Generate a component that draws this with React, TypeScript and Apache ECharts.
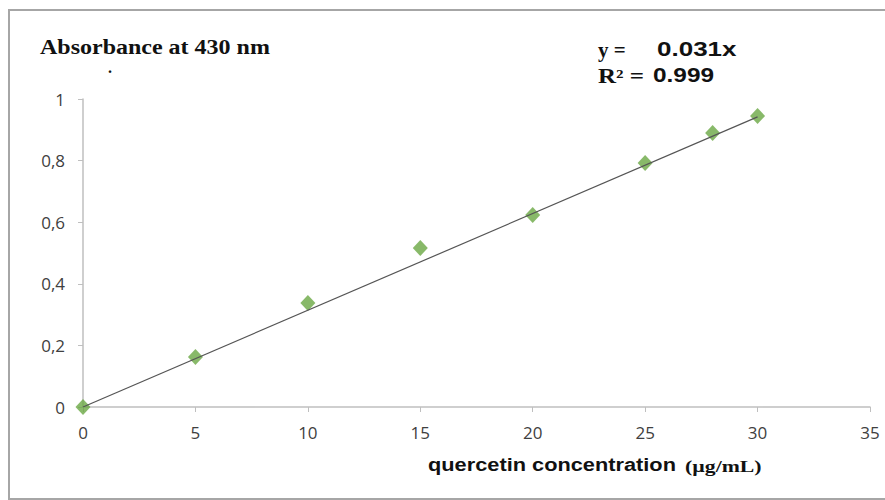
import React, { useEffect, useRef } from "react";
import * as echarts from "echarts";

const concentrations = [0, 5, 10, 15, 20, 25, 28, 30];
const absorbances = [0, 0.162, 0.338, 0.516, 0.623, 0.792, 0.89, 0.945];
const trendX = [0, 30];
const trendY = [0, 0.942];
const xTicks = [0, 5, 10, 15, 20, 25, 30, 35];
const yTicks = [0, 0.2, 0.4, 0.6, 0.8, 1];

export default function App() {
  const ref = useRef<HTMLDivElement>(null);
  useEffect(() => {
    if (!ref.current) return;
    const chart = echarts.init(ref.current, null, { renderer: "svg" });
    const labelFont = "'Open Sans', 'Noto Sans', sans-serif";
    const serif = "'Liberation Serif', 'Times New Roman', serif";
    const sans = "'Liberation Sans', Arial, sans-serif";
    const txt = (x: number, y: number, text: string, font: string, size: number, sx: number) => ({
      type: "text",
      x,
      y,
      scaleX: sx,
      silent: true,
      style: { text, fontFamily: font, fontWeight: "bold", fontSize: size, fill: "#111111", verticalAlign: "middle" },
    });
    chart.setOption({
      animation: false,
      backgroundColor: "#ffffff",
      grid: { left: 83, right: 15, top: 99, bottom: 93, containLabel: false },
      xAxis: {
        type: "value",
        min: xTicks[0],
        max: xTicks[xTicks.length - 1],
        interval: 5,
        splitLine: { show: false },
        axisLine: { lineStyle: { color: "#bfbfbf", width: 1.5 } },
        axisTick: { show: true, inside: false, length: 5, lineStyle: { color: "#bfbfbf" } },
        axisLabel: { color: "#404040", fontSize: 17, fontFamily: labelFont, margin: 17 },
      },
      yAxis: {
        type: "value",
        min: yTicks[0],
        max: yTicks[yTicks.length - 1],
        interval: 0.2,
        splitLine: { show: false },
        axisLine: { show: true, lineStyle: { color: "#bfbfbf", width: 1.5 } },
        axisTick: { show: true, inside: false, length: 5, lineStyle: { color: "#bfbfbf" } },
        axisLabel: {
          color: "#404040",
          fontSize: 17,
          fontFamily: labelFont,
          margin: 18,
          formatter: (v: number) => String(Math.round(v * 10) / 10).replace(".", ","),
        },
      },
      series: [
        {
          type: "line",
          data: trendX.map((x, i) => [x, trendY[i]]),
          showSymbol: false,
          symbol: "none",
          lineStyle: { color: "#555555", width: 1.2 },
          z: 2,
        },
        {
          type: "scatter",
          data: concentrations.map((x, i) => [x, absorbances[i]]),
          symbol: "diamond",
          symbolSize: [15, 16],
          itemStyle: { color: "#6aa843" },
          z: 1,
        },
      ],
      graphic: [
        {
          type: "rect",
          shape: { x: 9, y: 10, width: 900, height: 489 },
          style: { fill: "none", stroke: "#a6a6a6", lineWidth: 2 },
          silent: true,
        },
        txt(40, 47, "Absorbance at 430 nm", serif, 20, 1.2),
        txt(108, 67, ".", serif, 16, 1),
        txt(598, 50, "y =", serif, 20, 1.05),
        txt(657, 49, "0.031x", sans, 20, 1.3),
        txt(598, 76, "R² =", serif, 20, 1.25),
        txt(653, 75, "0.999", sans, 20, 1.22),
        txt(428, 465, "quercetin concentration", sans, 18, 1.21),
        txt(685, 467, "(µg/mL)", serif, 16, 1.36),
      ],
    });
    return () => chart.dispose();
  }, []);
  return (
    <div
      ref={ref}
      style={{ position: "fixed", left: 0, top: 0, width: 885, height: 500, background: "#fff" }}
    />
  );
}
